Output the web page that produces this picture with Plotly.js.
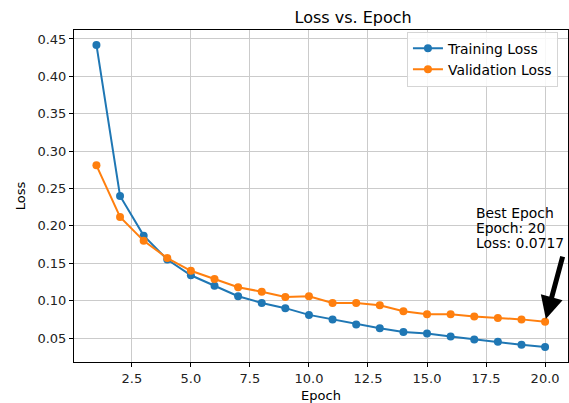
<!DOCTYPE html>
<html>
<head>
<meta charset="utf-8">
<script src="https://cdn.plot.ly/plotly-3.0.1.min.js"></script>
<style>html,body{margin:0;padding:0;background:#fff;}#chart{width:569px;height:403px;}</style>
</head>
<body>
<div id="chart"></div>
<script>
const epochs = [1,2,3,4,5,6,7,8,9,10,11,12,13,14,15,16,17,18,19,20];
const trainingLoss = [0.442,0.240,0.187,0.155,0.134,0.120,0.106,0.097,0.090,0.081,0.075,0.068,0.063,0.058,0.056,0.052,0.048,0.045,0.041,0.038];
const validationLoss = [0.281,0.212,0.180,0.157,0.140,0.129,0.118,0.112,0.105,0.106,0.097,0.097,0.094,0.086,0.082,0.082,0.079,0.077,0.075,0.0717];
const xTicks = [2.5,5.0,7.5,10.0,12.5,15.0,17.5,20.0];
const xTickLabels = ["2.5","5.0","7.5","10.0","12.5","15.0","17.5","20.0"];
const yTicks = [0.05,0.10,0.15,0.20,0.25,0.30,0.35,0.40,0.45];
const yTickLabels = ["0.05","0.10","0.15","0.20","0.25","0.30","0.35","0.40","0.45"];
const bestEpoch = 20;
const bestLoss = 0.0717;
const noteLines = ["Best Epoch", "Epoch: " + bestEpoch, "Loss: " + bestLoss];

const font = "DejaVu Sans, sans-serif";
const traces = [
  {x: epochs, y: trainingLoss, name: "Training Loss", mode: "lines+markers",
   line: {color: "#1f77b4", width: 2}, marker: {color: "#1f77b4", size: 8}},
  {x: epochs, y: validationLoss, name: "Validation Loss", mode: "lines+markers",
   line: {color: "#ff7f0e", width: 2}, marker: {color: "#ff7f0e", size: 8}}
];
const axisCommon = {
  showline: true, mirror: true, linecolor: "#000", linewidth: 1,
  ticks: "outside", ticklen: 4, tickcolor: "#000",
  showgrid: true, gridcolor: "#cbcbcb", gridwidth: 1, zeroline: false,
  tickfont: {family: font, size: 13, color: "#222"}
};
// text block placed at epoch 17, lines stacked downward (line spacing in axis units)
const noteTop = 0.2174, noteStep = 0.0201;
const noteAnnotations = noteLines.map((t, i) => ({
  x: 17, y: noteTop - i * noteStep, xref: "x", yref: "y",
  xanchor: "left", yanchor: "middle", text: t, showarrow: false,
  font: {family: font, size: 13.9, color: "#000"}
}));
const layout = {
  width: 569, height: 403,
  margin: {l: 74, r: 1, t: 30, b: 41},
  paper_bgcolor: "#fff", plot_bgcolor: "#fff",
  title: {text: "Loss vs. Epoch", font: {family: font, size: 16, color: "#000"},
          x: 0.565, xref: "paper", xanchor: "center",
          y: 0.958, yref: "container", yanchor: "middle"},
  xaxis: Object.assign({}, axisCommon, {
    range: [0.05, 20.97], tickvals: xTicks, ticktext: xTickLabels,
    title: {text: "Epoch", font: {family: font, size: 13, color: "#000"}, standoff: 6}
  }),
  yaxis: Object.assign({}, axisCommon, {
    range: [0.018, 0.462], tickvals: yTicks, ticktext: yTickLabels,
    title: {text: "Loss", font: {family: font, size: 13, color: "#000"}, standoff: 8}
  }),
  showlegend: true,
  legend: {x: 0.674, y: 0.995, xanchor: "left", yanchor: "top",
           bgcolor: "rgba(255,255,255,0.85)", bordercolor: "#d5d5d5", borderwidth: 1,
           font: {family: font, size: 13.9, color: "#000"}, tracegroupgap: 0},
  annotations: noteAnnotations.concat([
    {x: bestEpoch, y: bestLoss, xref: "x", yref: "y", text: "",
     showarrow: true, axref: "x", ayref: "y", ax: 20.76, ay: 0.161,
     arrowhead: 2, arrowsize: 0.9, arrowwidth: 5, arrowcolor: "#000", standoff: 3}
  ])
};
Plotly.newPlot("chart", traces, layout, {displayModeBar: false, staticPlot: true});
</script>
</body>
</html>
